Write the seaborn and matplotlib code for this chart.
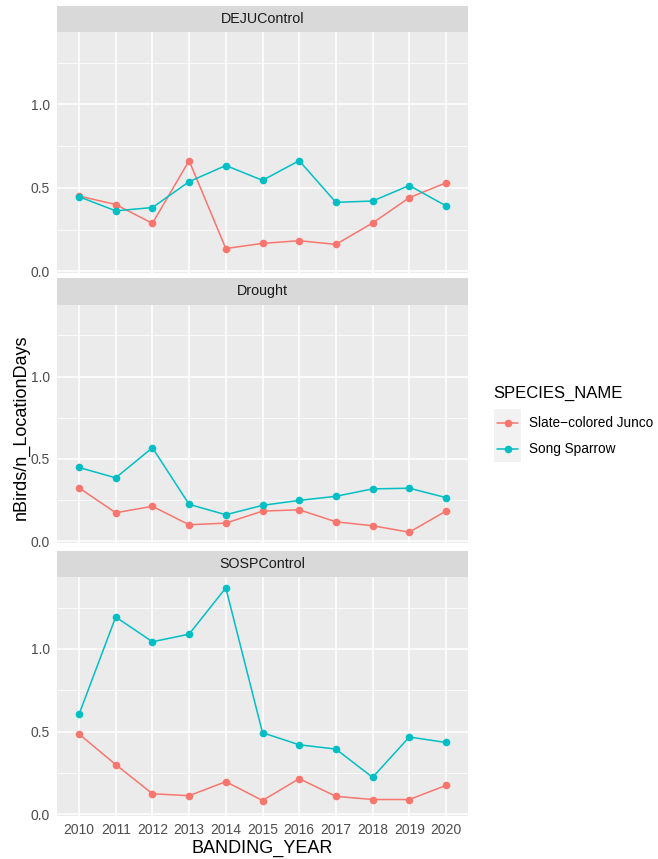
import numpy as np
import pandas as pd
import matplotlib
matplotlib.use("Agg")
import matplotlib.pyplot as plt
from matplotlib.lines import Line2D
from matplotlib.patches import Rectangle
import seaborn as sns

years = [2010, 2011, 2012, 2013, 2014, 2015, 2016, 2017, 2018, 2019, 2020]
facets = ["DEJUControl", "Drought", "SOSPControl"]
species = ["Slate\u2212colored Junco", "Song Sparrow"]

deju_junco   = [0.451, 0.400, 0.287, 0.663, 0.136, 0.167, 0.183, 0.161, 0.289, 0.441, 0.530]
deju_sparrow = [0.447, 0.362, 0.382, 0.537, 0.634, 0.545, 0.663, 0.413, 0.421, 0.514, 0.392]
drought_junco   = [0.324, 0.173, 0.212, 0.100, 0.110, 0.183, 0.191, 0.118, 0.094, 0.055, 0.183]
drought_sparrow = [0.448, 0.385, 0.568, 0.224, 0.161, 0.218, 0.248, 0.273, 0.318, 0.322, 0.265]
sosp_junco   = [0.485, 0.300, 0.124, 0.112, 0.197, 0.083, 0.215, 0.108, 0.089, 0.089, 0.174]
sosp_sparrow = [0.604, 1.193, 1.043, 1.089, 1.369, 0.493, 0.420, 0.394, 0.223, 0.467, 0.434]

series = {
    ("DEJUControl", species[0]): deju_junco,
    ("DEJUControl", species[1]): deju_sparrow,
    ("Drought", species[0]): drought_junco,
    ("Drought", species[1]): drought_sparrow,
    ("SOSPControl", species[0]): sosp_junco,
    ("SOSPControl", species[1]): sosp_sparrow,
}
rows = []
for (fac, sp), vals in series.items():
    for y, v in zip(years, vals):
        rows.append({"facet": fac, "SPECIES_NAME": sp, "BANDING_YEAR": y, "val": v})
df = pd.DataFrame(rows)

palette = {species[0]: "#F8766D", species[1]: "#00BFC4"}

sns.set_style("white")
plt.rcParams["font.family"] = ["Liberation Sans", "DejaVu Sans"]

W, H = 658, 859
fig = plt.figure(figsize=(W / 100, H / 100), dpi=100)

def fx(px):
    return px / W

def fy(py):
    return 1 - py / H

x0, x1 = 57, 468
panels = [(6, 32, 273), (278, 305, 543), (551, 577, 816)]

allv = df["val"]
rng = allv.max() - allv.min()
ylo, yhi = allv.min() - 0.05 * rng, allv.max() + 0.05 * rng

for i, (fac, (st, pt, pb)) in enumerate(zip(facets, panels)):
    ax = fig.add_axes([fx(x0), fy(pb), fx(x1) - fx(x0), fy(pt) - fy(pb)])
    ax.set_facecolor("#EBEBEB")
    for s in ax.spines.values():
        s.set_visible(False)
    sub = df[df["facet"] == fac]
    sns.lineplot(data=sub, x="BANDING_YEAR", y="val", hue="SPECIES_NAME",
                 palette=palette, marker="o", markersize=5.5, markeredgewidth=0,
                 linewidth=1.1, ax=ax, legend=False, zorder=3)
    ax.set_xlim(2010 - 0.6, 2020 + 0.6)
    ax.set_ylim(ylo, yhi)
    ax.set_yticks([0.0, 0.5, 1.0])
    ax.set_yticks([0.25, 0.75, 1.25], minor=True)
    ax.set_xticks(years)
    ax.grid(True, which="major", color="white", linewidth=1.1, zorder=0)
    ax.grid(True, which="minor", axis="y", color="white", linewidth=0.55, zorder=0)
    ax.set_axisbelow(True)
    ax.tick_params(axis="y", which="major", length=3, width=0.8, color="#333333",
                   labelsize=10, labelcolor="#4D4D4D", pad=2)
    ax.tick_params(axis="y", which="minor", length=0)
    ax.set_yticklabels(["0.0", "0.5", "1.0"])
    if i == 2:
        ax.tick_params(axis="x", length=3, width=0.8, color="#333333",
                       labelsize=10, labelcolor="#4D4D4D", pad=2)
        ax.set_xticklabels([str(y) for y in years])
    else:
        ax.tick_params(axis="x", length=0, labelbottom=False)
    ax.set_xlabel("")
    ax.set_ylabel("")
    # strip
    sax = fig.add_axes([fx(x0), fy(pt), fx(x1) - fx(x0), fy(st) - fy(pt)])
    sax.set_facecolor("#D9D9D9")
    sax.set_xticks([])
    sax.set_yticks([])
    for s in sax.spines.values():
        s.set_visible(False)
    sax.text(0.5, 0.5, fac, ha="center", va="center", fontsize=10.3,
             color="#1A1A1A", transform=sax.transAxes)

fig.text(fx((x0 + x1) / 2), fy(848), "BANDING_YEAR", ha="center", va="center",
         fontsize=13, color="black")
fig.text(fx(21), fy(427), "nBirds/n_LocationDays", ha="center", va="center",
         rotation=90, fontsize=13, color="black")

# legend
fig.text(fx(493), fy(393), "SPECIES_NAME", ha="left", va="center", fontsize=12,
         color="black")
fig.patches.append(Rectangle((fx(494), fy(462)), fx(521) - fx(494), fy(409) - fy(462),
                             transform=fig.transFigure, facecolor="#F2F2F2",
                             edgecolor="none", zorder=0))
for sp, cy in zip(species, [423, 449]):
    fig.add_artist(Line2D([fx(497), fx(518)], [fy(cy), fy(cy)], color=palette[sp],
                          linewidth=1.1, transform=fig.transFigure))
    fig.add_artist(Line2D([fx(507.5)], [fy(cy)], color=palette[sp], marker="o",
                          markersize=5.5, markeredgewidth=0, linestyle="none",
                          transform=fig.transFigure))
    fig.text(fx(529), fy(cy), sp, ha="left", va="center", fontsize=9.8, color="black")

fig.savefig("out.png", dpi=100)
